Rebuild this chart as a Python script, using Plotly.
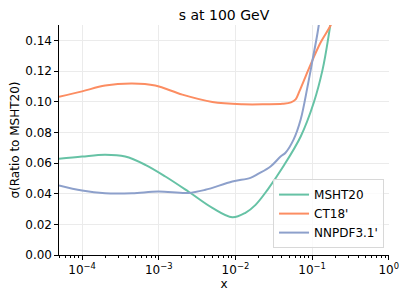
import plotly.graph_objects as go

# MSHT20 (green)
msht_x = [5.0e-5, 1.0e-4, 2.0e-4, 3.65e-4, 6.67e-4, 1.22e-3, 2.43e-3, 5.0e-3, 9.1e-3, 1.35e-2, 1.83e-2, 2.62e-2, 4.2e-2, 7.1e-2, 0.105, 0.137, 0.164, 0.19]
msht_y = [0.0627, 0.0642, 0.0654, 0.0642, 0.0588, 0.0512, 0.0414, 0.0307, 0.0246, 0.0275, 0.0327, 0.0425, 0.0577, 0.0773, 0.0993, 0.1209, 0.1427, 0.165]

# CT18' (orange)
ct_x = [5.0e-5, 1.0e-4, 2.0e-4, 4.5e-4, 9.0e-4, 2.03e-3, 5.0e-3, 1.24e-2, 2.5e-2, 4.11e-2, 5.3e-2, 6.1e-2, 6.8e-2, 7.74e-2, 9.55e-2, 0.129, 0.175, 0.2]
ct_y = [0.1032, 0.1067, 0.1105, 0.1118, 0.1105, 0.1046, 0.0998, 0.0983, 0.0983, 0.0986, 0.0995, 0.1015, 0.1065, 0.1133, 0.1242, 0.1386, 0.150, 0.158]

# NNPDF3.1' (blue)
nn_x = [5.0e-5, 1.0e-4, 2.0e-4, 4.5e-4, 9.85e-4, 2.43e-3, 4.05e-3, 9.1e-3, 1.57e-2, 2.0e-2, 2.87e-2, 3.88e-2, 4.5e-2, 5.73e-2, 7.08e-2, 8.73e-2, 0.1016, 0.118, 0.135]
nn_y = [0.0453, 0.0420, 0.0403, 0.0403, 0.0414, 0.0405, 0.0425, 0.0479, 0.0503, 0.0530, 0.0577, 0.0642, 0.0667, 0.0752, 0.0882, 0.110, 0.1275, 0.1451, 0.165]

x_tickvals = [1e-4, 1e-3, 1e-2, 1e-1, 1]
x_ticktext = ["10<sup>−4</sup>", "10<sup>−3</sup>", "10<sup>−2</sup>", "10<sup>−1</sup>", "10<sup>0</sup>"]
x_minor = [m * 10.0 ** e for e in range(-5, 0) for m in range(2, 10)]
y_tickvals = [0.00, 0.02, 0.04, 0.06, 0.08, 0.10, 0.12, 0.14]
y_ticktext = ["0.00", "0.02", "0.04", "0.06", "0.08", "0.10", "0.12", "0.14"]

font = "DejaVu Sans"
W, H = 399, 291  # page body adds an 8px margin
fig = go.Figure()
for name, xs, ys, col in [("MSHT20", msht_x, msht_y, "#66c2a5"),
                          ("CT18'", ct_x, ct_y, "#fc8d62"),
                          ("NNPDF3.1'", nn_x, nn_y, "#8da0cb")]:
    fig.add_trace(go.Scatter(x=xs, y=ys, name=name, mode="lines",
                             line=dict(color=col, width=2, shape="spline", smoothing=1.0)))

fig.update_layout(
    width=W, height=H,
    margin=dict(l=51, r=18, t=17, b=44),
    paper_bgcolor="white", plot_bgcolor="white",
    font=dict(family=font, size=12, color="black"),
    title=dict(text="s at 100 GeV", x=(51 + (W - 18)) / 2 / W, xref="container", xanchor="center",
               y=1 - 7 / H, yref="container", yanchor="middle",
               font=dict(family=font, size=14, color="black")),
    legend=dict(x=0.985, y=0.03, xanchor="right", yanchor="bottom",
                bordercolor="#d8d8d8", borderwidth=1, bgcolor="rgba(255,255,255,0.8)",
                font=dict(family=font, size=12), itemwidth=30, tracegroupgap=0),
    xaxis=dict(type="log", range=[-4.30103, 0.003], tickvals=x_tickvals, ticktext=x_ticktext,
               automargin=False,
               showline=True, linecolor="black", linewidth=1.2, mirror=False,
               ticks="outside", ticklen=3.5, tickcolor="black", tickfont=dict(size=12),
               showgrid=True, gridcolor="#ebebeb", gridwidth=1, zeroline=False,
               minor=dict(tickvals=x_minor, ticks="outside", ticklen=2, tickcolor="black", showgrid=False),
               title=dict(text="x", font=dict(family=font, size=12), standoff=2)),
    yaxis=dict(range=[0, 0.15], tickvals=y_tickvals, ticktext=y_ticktext,
               automargin=False,
               showline=True, linecolor="black", linewidth=1.2, mirror=False,
               ticks="outside", ticklen=3.5, tickcolor="black", tickfont=dict(size=12),
               showgrid=True, gridcolor="#ebebeb", gridwidth=1, zeroline=False,
               title=dict(text="σ(Ratio to MSHT20)", font=dict(family=font, size=12), standoff=4)),
)
fig.write_html("out.html")
